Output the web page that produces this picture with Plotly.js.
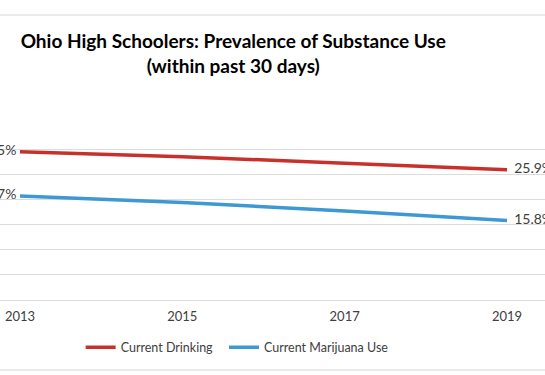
<!DOCTYPE html>
<html>
<head>
<meta charset="utf-8">
<script src="https://cdn.plot.ly/plotly-3.0.1.min.js"></script>
<style>html,body{margin:0;padding:0;background:#fff;overflow:hidden;}#chart{width:545px;height:375px;}</style>
</head>
<body>
<div id="chart"></div>
<script>
const years = [2013, 2015, 2017, 2019];
const yearLabels = ['2013', '2015', '2017', '2019'];
const drinking = [29.5, 28.5, 27.2, 25.9];
const marijuana = [20.7, 19.4, 17.7, 15.8];
const seriesNames = ['Current Drinking', 'Current Marijuana Use'];

function endLabels(vals) {
  return vals.map((v, i) => {
    if (i === 0) return v.toFixed(1) + '% ';
    if (i === vals.length - 1) return '  ' + v.toFixed(1) + '%';
    return '';
  });
}
function endPositions(vals) {
  return vals.map((v, i) => i === 0 ? 'middle left' : 'middle right');
}

const font = 'Lato, "Open Sans", sans-serif';
const pad = '\u00a0\u00a0';

const traces = [
  {
    x: years, y: drinking, name: seriesNames[0] + pad, type: 'scatter', mode: 'lines+text',
    line: {color: '#c9302c', width: 3.5},
    text: endLabels(drinking), textposition: endPositions(drinking),
    textfont: {family: font, size: 14, color: '#404040'}, cliponaxis: false,
    hoverinfo: 'skip'
  },
  {
    x: years, y: marijuana, name: seriesNames[1], type: 'scatter', mode: 'lines+text',
    line: {color: '#3d98d3', width: 3.5},
    text: endLabels(marijuana), textposition: endPositions(marijuana),
    textfont: {family: font, size: 14, color: '#404040'}, cliponaxis: false,
    hoverinfo: 'skip'
  }
];

const layout = {
  width: 545, height: 375,
  margin: {l: 0, r: 0, t: 124, b: 75},
  paper_bgcolor: '#ffffff', plot_bgcolor: '#ffffff',
  font: {family: font, color: '#404040'},
  title: {
    text: '<b>Ohio High Schoolers: Prevalence of Substance Use<br>(within past 30 days)</b>',
    font: {family: font, size: 19, color: '#000000', lineposition: 'none'},
    x: 0.428, xanchor: 'center', xref: 'paper',
    y: 0.872, yanchor: 'top', yref: 'container'
  },
  xaxis: {
    range: [2012.754, 2019.468],
    tickmode: 'array', tickvals: years, ticktext: yearLabels,
    showgrid: false, zeroline: false, showline: false,
    ticks: '', tickfont: {family: font, size: 13, color: '#404040'},
    ticklabelstandoff: 7
  },
  yaxis: {
    range: [0, 35], dtick: 5, showticklabels: false,
    showgrid: true, gridcolor: '#dcdcdc', gridwidth: 1,
    zeroline: true, zerolinecolor: '#dcdcdc', zerolinewidth: 1,
    ticks: ''
  },
  showlegend: true,
  legend: {
    orientation: 'h', x: 0.148, xanchor: 'left', y: -0.27, yanchor: 'middle',
    font: {family: font, size: 12.5, color: '#404040'},
    bgcolor: 'rgba(0,0,0,0)'
  },
  shapes: [
    {type: 'line', xref: 'paper', yref: 'paper', x0: 0, x1: 1, y0: 1.619, y1: 1.619, line: {color: '#e3e3e3', width: 1.5}},
    {type: 'line', xref: 'paper', yref: 'paper', x0: 0, x1: 1, y0: -0.398, y1: -0.398, line: {color: '#e3e3e3', width: 1.5}}
  ]
};

Plotly.newPlot('chart', traces, layout, {displayModeBar: false, staticPlot: true});
</script>
</body>
</html>
